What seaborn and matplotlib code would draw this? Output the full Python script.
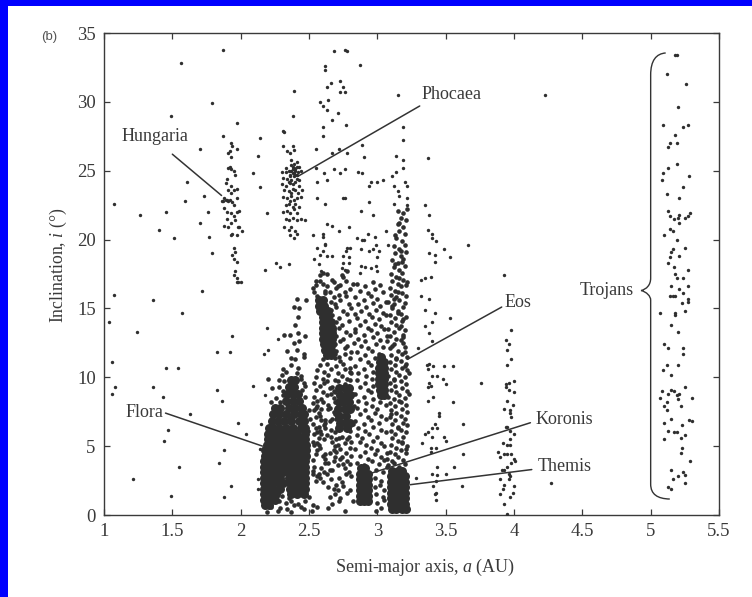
import matplotlib
matplotlib.use("Agg")
import matplotlib.pyplot as plt
from matplotlib.patches import PathPatch, Rectangle
from matplotlib.path import Path
import pandas as pd
import seaborn as sns

# Scattered single asteroids: semi-major axis (AU), inclination (deg)
field_a = [1.87,1.56,1.79,1.49,1.97,1.87,1.70,1.97,1.91,1.61,1.59,1.73,1.07,1.26,1.45,1.40,1.51,1.76,1.70,1.77,1.79,1.72,1.07,
           2.09,2.14,2.14,2.13,2.19,2.18,2.26,2.29,2.35,2.32,2.38,2.39,
           1.04,1.24,1.36,1.57,1.06,1.08,1.06,1.45,1.54,1.36,1.43,1.83,1.92,1.94,1.83,1.86,2.09,1.63,1.98,2.04,1.47,1.44,1.88,1.84,1.55,1.21,1.93,1.88,1.49,
           2.14,2.15,2.19,2.2,2.17,2.27,2.18,2.13,2.13,4.23,4.27,3.76,3.93]
field_i = [33.8,32.8,29.9,29.0,28.5,27.5,26.6,26.6,26.3,24.2,22.8,23.2,22.6,21.8,22.0,20.7,20.1,22.0,21.2,20.2,19.0,16.3,16.0,
           24.8,23.8,27.4,26.1,21.9,17.8,18.3,18.0,18.2,27.8,29.0,30.8,
           14.0,13.3,15.6,14.7,11.1,9.3,8.8,10.7,10.7,9.3,8.6,11.8,11.8,13.0,9.1,8.3,9.4,7.3,6.7,5.9,6.2,5.4,4.7,3.8,3.5,2.6,2.1,1.3,1.4,
           4.8,6.6,13.6,12.0,11.7,12.8,8.7,2.6,1.9,30.5,2.3,9.6,17.4]

# Hungaria group
hungaria_a = [1.93,1.94,1.92,1.93,1.91,1.92,1.93,1.95,1.96,1.9,1.89,1.93,1.91,1.95,1.97,1.93,1.88,1.9,1.86,1.87,1.89,1.91,1.92,1.94,1.95,1.97,1.88,1.9,1.93,1.95,1.97,1.99,1.9,1.93,1.96,1.98,1.88,1.91,1.94,1.97,1.99,2.01,1.93,1.95,1.96,1.94,1.95,1.97,1.96,1.97,1.98,2.0,1.95,1.97]
hungaria_i = [27.0,26.8,26.4,26.0,25.2,25.3,25.1,25.0,24.7,24.4,24.1,23.9,23.6,23.6,23.7,23.4,23.0,22.9,22.8,22.8,22.9,22.8,22.9,22.7,22.5,23.0,22.3,22.0,21.9,21.7,22.0,22.1,21.5,21.2,21.4,20.9,21.0,20.9,20.4,20.3,20.9,20.6,20.3,19.4,19.1,18.9,18.6,18.4,17.7,17.2,16.9,16.9,17.4,16.9]
# Phocaea group
phocaea_a = [2.31,2.34,2.38,2.39,2.36,2.33,2.37,2.41,2.43,2.3,2.33,2.35,2.38,2.4,2.42,2.44,2.31,2.34,2.36,2.39,2.41,2.43,2.3,2.33,2.36,2.38,2.4,2.43,2.32,2.35,2.37,2.4,2.42,2.45,2.31,2.34,2.37,2.39,2.41,2.44,2.33,2.35,2.38,2.4,2.43,2.31,2.34,2.36,2.39,2.41,2.33,2.35,2.38,2.41,2.44,2.47,2.32,2.35,2.37,2.4,2.36,2.39,2.41,2.31,2.37,2.39,2.41,2.38,2.4,2.37,2.39,2.36,2.38,2.4,2.39,2.37,2.35,2.41,2.38,2.36]
phocaea_i = [26.8,26.4,26.8,26.5,26.3,25.2,25.4,25.6,25.3,24.9,24.9,25.0,25.1,25.1,24.9,25.0,24.5,24.4,24.6,24.6,24.4,24.3,24.0,23.9,24.1,24.0,24.2,23.9,23.6,23.5,23.4,23.6,23.4,23.6,23.1,23.0,23.2,22.9,23.0,23.1,22.5,22.6,22.4,22.6,22.4,22.0,22.1,21.9,22.2,21.9,21.5,21.4,21.6,21.4,21.5,21.4,20.9,20.7,20.9,20.6,20.3,20.1,20.4,27.9,25.8,25.5,24.7,24.8,25.0,24.3,24.8,24.7,25.3,24.7,25.2,25.0,24.2,25.3,23.7,22.8]
# Upper, thinly populated part of the belt
upper_a = [2.62,2.62,2.68,2.76,2.78,2.87,2.63,2.66,2.73,2.75,2.73,2.76,2.58,2.64,2.6,2.63,2.71,2.67,2.6,2.77,2.6,2.55,2.67,2.78,2.72,2.89,2.9,2.55,2.61,2.68,2.76,2.73,2.86,2.89,2.56,2.63,2.94,2.95,2.56,2.62,2.75,2.76,2.88,2.63,2.67,2.72,2.79,2.53,2.6,2.89,2.62,2.78,2.94,2.97,
           3.15,3.19,3.19,3.14,3.19,3.37,3.19,3.14,3.11,3.04,3.0,3.12,3.2,3.22,3.15,3.16,3.22,3.12,3.22,3.35,3.38,3.37,3.4,3.4,3.43,3.66,3.49,3.53,3.38,3.42,3.42,3.32,3.35,3.39,
           2.6,2.62,2.54,2.58,2.63,2.67,2.57,2.59,2.75,2.79,2.77,2.8,2.75,2.79,2.74,2.76,2.88,2.94,2.9,2.99,3.01,3.0,3.08,2.88,2.91,2.95,2.99,3.0,2.87,2.6,2.93,2.98,3.06,2.56,2.85,2.97]
upper_i = [32.6,32.3,33.7,33.8,33.7,32.7,31.1,31.4,31.5,31.1,30.7,30.7,30.0,30.1,29.7,29.4,29.2,28.7,28.2,28.3,27.5,26.6,26.3,26.3,26.6,26.9,26.0,25.2,24.8,25.1,25.1,24.8,24.9,24.8,24.2,24.3,23.9,24.2,23.0,22.6,23.0,23.0,22.1,21.1,21.0,20.6,20.9,20.3,20.4,20.0,19.7,19.4,22.7,21.8,
           30.5,28.2,27.2,26.1,25.8,25.9,25.2,24.9,24.6,24.3,24.2,23.9,24.2,23.9,23.5,23.2,23.0,22.6,22.5,22.5,21.8,20.7,20.4,20.1,19.9,19.6,19.3,18.7,19.0,18.9,18.4,17.1,17.2,17.3,
           20.2,19.6,18.6,18.9,18.8,18.8,18.2,17.7,18.8,18.7,19.2,19.4,18.3,18.3,17.9,17.8,19.3,19.2,20.0,19.6,19.2,18.7,19.6,18.1,18.0,17.9,18.1,17.7,17.6,19.2,20.4,20.2,20.6,19.4,20.1,19.3]
# Band near 3.4 AU
band34_a = [3.35,3.42,3.53,3.40,3.35,3.38,3.4,3.36,3.38,3.41,3.49,3.55,3.37,3.4,3.44,3.48,3.5,3.38,3.37,3.39,3.41,3.37,3.55,3.45,3.45,3.63,3.42,3.4,3.44,3.37,3.35,3.4,3.49,3.5,3.33,3.43,3.39,3.39,3.63,3.56,3.44,3.4,3.44,3.5,3.43,3.28,3.62,3.41,3.43,3.42,3.43,3.32,3.38,3.3]
band34_i = [14.9,14.7,14.3,14.0,13.7,13.2,12.6,10.9,11.0,10.8,10.8,10.8,10.6,10.1,10.1,9.9,9.5,9.6,9.3,9.4,8.6,8.3,8.2,7.4,7.2,6.6,6.6,6.3,6.3,6.0,5.9,5.7,5.7,5.4,5.2,4.9,4.9,4.6,4.4,3.5,3.5,3.0,2.9,3.0,2.5,2.7,2.1,2.1,1.6,1.5,1.1,15.9,15.7,12.1]
# Band near 3.95 AU
band395_a = [3.98,3.94,3.96,3.95,3.98,3.95,3.94,3.96,4.0,3.94,3.96,4.0,3.95,3.99,3.93,3.97,3.97,3.98,3.94,3.95,3.97,4.0,3.92,3.95,3.97,3.97,3.88,3.9,3.93,3.95,3.98,4.0,3.98,4.01,3.95,3.93,3.91,3.96,3.97,3.96,3.90,3.93,4.0,3.92,3.99,3.9,3.97,3.93,3.95]
band395_i = [13.4,12.7,12.4,12.0,11.3,10.9,9.5,9.6,9.7,9.3,9.1,8.9,8.3,8.0,7.7,7.6,7.4,7.1,6.4,6.4,6.1,5.9,5.2,5.1,5.5,5.1,4.6,4.2,4.4,4.4,4.4,4.1,3.8,3.9,3.5,3.3,3.3,3.0,2.8,2.6,2.6,2.2,2.1,1.9,1.6,1.5,1.3,0.8,0.1]
# Jupiter Trojans
trojan_a = [5.18,5.19,5.12,5.26,5.2,5.09,5.24,5.27,5.18,5.19,5.14,5.13,5.19,5.13,5.09,5.08,5.28,5.24,5.12,5.21,5.13,5.14,5.17,5.2,5.21,5.21,5.25,5.27,5.29,5.14,5.16,5.1,5.19,5.16,5.15,5.25,5.21,5.14,5.13,5.17,5.27,5.18,5.19,5.24,5.15,5.21,5.27,5.24,5.14,5.16,5.18,5.27,5.27,5.23,5.07,5.18,5.18,5.25,5.15,5.2,5.1,5.13,5.24,5.24,5.12,5.2,5.09,5.15,5.25,5.15,5.17,5.19,5.21,5.2,5.08,5.13,5.07,5.3,5.12,5.1,5.22,5.12,5.15,5.1,5.28,5.3,5.23,5.13,5.17,5.19,5.25,5.22,5.1,5.23,5.22,5.29,5.15,5.24,5.25,5.2,5.16,5.25,5.13,5.15]
trojan_i = [33.4,33.4,32.0,31.3,29.6,28.3,28.2,28.3,27.6,27.0,27.0,26.7,25.5,25.2,24.8,24.3,24.6,23.8,23.3,23.0,22.1,21.7,21.5,21.6,21.2,21.8,21.6,21.7,21.9,20.8,20.6,20.3,20.0,19.3,19.1,19.4,18.8,18.7,18.3,18.0,17.8,17.5,17.2,17.2,16.6,16.4,16.6,16.1,15.9,15.9,15.9,15.7,15.5,15.4,14.7,14.7,14.5,14.8,13.8,13.3,12.4,12.1,12.1,11.7,10.9,10.9,10.5,10.2,9.3,9.1,9.0,8.7,8.8,8.4,9.0,8.8,8.5,8.5,8.2,7.9,7.9,7.6,7.0,6.7,6.9,6.8,6.5,6.1,6.0,6.0,5.8,5.6,5.5,4.9,4.5,3.9,3.3,3.1,2.9,2.8,2.6,2.3,2.0,1.9]

# Dense families, written as (inclination, [semi-major axes]) rows
flora_rows = [
 (0.7,[2.18,2.21]),(1.1,[2.17,2.21,2.25]),(1.5,[2.17,2.21,2.26,2.37,2.41,2.46]),
 (1.9,[2.17,2.2,2.24,2.29,2.36,2.4,2.44,2.47]),(2.3,[2.17,2.2,2.24,2.28,2.31,2.36,2.4,2.44,2.47]),
 (2.7,[2.17,2.2,2.24,2.29,2.35,2.39,2.43,2.47]),(3.1,[2.17,2.2,2.23,2.27,2.31,2.35,2.4,2.44,2.47]),
 (3.5,[2.17,2.2,2.25,2.29,2.32,2.36,2.41,2.45,2.47]),(3.9,[2.17,2.2,2.23,2.28,2.31,2.34,2.38,2.43,2.47]),
 (4.3,[2.18,2.21,2.24,2.28,2.32,2.37,2.42,2.46,2.48]),(4.7,[2.18,2.21,2.26,2.3,2.35,2.39,2.44,2.48]),
 (5.1,[2.19,2.22,2.25,2.29,2.33,2.37,2.42,2.46,2.48]),(5.5,[2.2,2.23,2.26,2.31,2.35,2.4,2.44,2.47]),
 (5.9,[2.2,2.23,2.27,2.31,2.36,2.41,2.47]),(6.3,[2.21,2.24,2.28,2.33,2.38,2.44,2.47]),
 (6.8,[2.23,2.27,2.32,2.37,2.43,2.46]),(7.3,[2.24,2.28,2.33,2.39,2.44,2.46]),(7.8,[2.25,2.29,2.35,2.4,2.45]),
 (8.3,[2.33,2.38,2.43]),(8.8,[2.34,2.38,2.42]),(9.3,[2.35,2.39]),(9.8,[2.37,2.4]),
]
eunomia_rows = [
 (15.6,[2.57,2.6]),(15.2,[2.57,2.61]),(14.8,[2.58,2.62,2.64]),(14.4,[2.6,2.64]),(14.0,[2.6,2.64,2.66]),
 (13.6,[2.6,2.64,2.67]),(13.2,[2.6,2.63,2.67]),(12.8,[2.6,2.64,2.67]),(12.4,[2.61,2.65,2.67]),(12.0,[2.62,2.66]),(11.6,[2.63,2.66]),
 (9.2,[2.72,2.76,2.79]),(8.7,[2.73,2.77,2.8]),(8.2,[2.72,2.75,2.79]),(7.7,[2.71,2.76,2.8]),(7.2,[2.72,2.77]),(6.7,[2.73,2.77,2.8]),(6.3,[2.72,2.78]),
]
koronis_rows = [(3.4,[2.88,2.91]),(3.0,[2.87,2.9,2.93]),(2.6,[2.87,2.9,2.93]),(2.2,[2.87,2.9,2.93]),(1.8,[2.87,2.9,2.93]),(1.4,[2.87,2.9,2.93]),(1.0,[2.87,2.9,2.93])]
themis_rows = [(3.2,[3.11,3.15,3.18]),(2.8,[3.1,3.14,3.17,3.2]),(2.4,[3.1,3.13,3.17,3.2]),(2.0,[3.1,3.13,3.17,3.2]),(1.6,[3.1,3.12,3.16,3.2]),(1.2,[3.1,3.13,3.17,3.2]),(0.8,[3.1,3.13,3.17,3.2]),(0.4,[3.11,3.14,3.18,3.21])]
eos_core_rows = [(11.5,[3.03]),(11.1,[3.02,3.05]),(10.7,[3.01,3.05]),(10.3,[3.01,3.05]),(9.9,[3.01,3.05]),(9.5,[3.01,3.05]),(9.1,[3.02,3.05]),(8.7,[3.03,3.05])]

# Worm-like clumps
flora_fringe = [(2.19,0.2),(2.27,0.3),(2.37,0.2),(2.52,0.3),(2.22,0.6),(2.29,0.5),(2.34,0.4),(2.39,0.7),(2.44,0.6),(2.46,0.4),(2.28,1.0),(2.33,0.9),(2.37,1.0),(2.42,0.8),(2.47,1.0),(2.53,0.7),(2.56,0.6),(2.3,1.4),(2.35,1.2),(2.5,1.3),(2.22,8.2),(2.26,8.5),(2.29,8.2),(2.47,8.6),(2.23,9.2),(2.28,9.3),(2.31,9.0),(2.45,9.1),(2.2,9.9),(2.28,9.8),(2.32,9.7),(2.44,9.9),(2.42,10.7),(2.31,10.6),(2.37,10.9),(2.37,11.4),(2.4,11.3),(2.46,11.5),(2.34,11.9),(2.41,12.0),(2.46,11.7),(2.39,12.5),(2.43,12.6),(2.32,13.1),(2.36,13.1),(2.42,13.2),(2.47,13.0),(2.4,13.8),(2.42,14.4),(2.43,15.0),(2.39,15.1),(2.41,15.7),(2.48,15.6),(2.36,8.9),(2.47,9.4),(2.5,7.6),(2.51,7.0),(2.49,6.1),(2.3,10.2),(2.33,10.4),(2.41,10.3),(2.44,10.1),(2.31,8.7),(2.46,9.6),(2.29,7.5),(2.35,7.1)]
eunomia_low = [(2.64,0.5),(2.76,0.3),(2.67,0.8),(2.72,1.0),(2.65,1.3),(2.69,1.5),(2.73,1.2),(2.78,1.6),(2.64,2.0),(2.68,1.9),(2.71,1.8),(2.75,2.1),(2.8,1.8),(2.55,2.5),(2.58,2.7),(2.6,2.4),(2.63,3.0),(2.66,2.6),(2.7,2.2),(2.74,2.4),(2.53,3.0),(2.56,2.8),(2.61,3.1),(2.65,3.3),(2.72,2.7),(2.77,3.0),(2.81,2.8),(2.54,3.5),(2.59,3.4),(2.62,3.8),(2.67,3.3),(2.71,3.6),(2.76,3.4),(2.8,3.7),(2.53,4.0),(2.55,4.4),(2.62,4.1),(2.68,3.9),(2.73,4.1),(2.78,3.9),(2.56,4.7),(2.6,4.3),(2.65,4.5),(2.7,4.6),(2.74,4.2),(2.77,4.5),(2.81,4.3),(2.54,5.1),(2.58,4.9),(2.69,5.0),(2.73,4.8),(2.76,5.2),(2.8,4.9),(2.53,5.3),(2.57,5.6),(2.61,5.5),(2.67,5.3),(2.72,5.6),(2.78,5.5),(2.54,5.9),(2.55,6.3),(2.58,6.1),(2.63,5.8),(2.69,6.0),(2.74,5.7),(2.8,6.1),(2.53,6.6),(2.57,6.4),(2.62,6.7),(2.66,6.2),(2.55,7.1),(2.59,6.9),(2.67,7.0),(2.69,7.3),(2.54,7.6),(2.57,7.4),(2.64,7.7),(2.68,7.5),(2.53,8.1),(2.56,7.9),(2.6,8.2),(2.65,7.8),(2.69,8.2),(2.54,8.6),(2.59,8.4),(2.63,8.7),(2.68,8.5),(2.55,9.1),(2.6,8.9),(2.65,9.2),(2.69,8.9),(2.54,9.6),(2.58,9.4),(2.63,9.7),(2.67,9.3),(2.71,9.7),(2.76,9.5),(2.8,9.8),(2.55,10.0),(2.6,9.9),(2.64,10.2),(2.69,9.8),(2.74,10.1),(2.78,9.9),(2.81,10.3),(2.56,10.5),(2.61,10.4),(2.66,10.6),(2.71,10.3),(2.76,10.6),(2.8,10.4),(2.58,10.9),(2.63,11.0),(2.7,10.8),(2.75,11.0),(2.8,10.7),(2.6,11.3),(2.69,11.4),(2.73,11.2),(2.57,5.1),(2.62,4.4),(2.66,5.7),(2.71,5.1),(2.75,3.7),(2.56,6.0),(2.59,7.7),(2.56,8.3),(2.58,7.2),(2.61,6.5),(2.65,6.8),(2.7,7.0),(2.74,6.8),(2.79,3.1),(2.81,5.3),(2.55,7.8),(2.57,3.0),(2.62,6.3),(2.64,8.0),(2.68,9.0),(2.71,7.4),(2.79,5.7),(2.82,8.8),(2.53,3.2),(2.56,5.2),(2.59,5.9),(2.62,6.9),(2.66,8.8),(2.69,4.2),(2.82,6.6),(2.83,7.9),(2.61,9.6),(2.64,3.8),(2.68,4.7),(2.7,5.5),(2.77,6.4),(2.82,1.0)]
above_eunomia = [(2.7,11.9),(2.76,12.1),(2.81,11.8),(2.69,12.4),(2.73,12.6),(2.78,12.3),(2.83,12.5),(2.7,13.0),(2.75,12.8),(2.8,13.1),(2.68,13.4),(2.72,13.6),(2.77,13.3),(2.84,13.5),(2.7,14.0),(2.74,13.8),(2.79,14.1),(2.67,14.5),(2.72,14.3),(2.78,14.6),(2.66,14.9),(2.7,15.1),(2.75,14.8),(2.81,15.0),(2.66,15.5),(2.69,15.3),(2.73,15.6),(2.79,15.3),(2.56,15.9),(2.62,16.1),(2.68,15.8),(2.72,16.0),(2.77,15.9),(2.53,16.5),(2.62,16.3),(2.71,16.6),(2.76,16.2),(2.8,16.4),(2.55,17.0),(2.6,16.8),(2.67,17.1),(2.73,16.7),(2.77,17.0),(2.58,17.4),(2.63,17.5),(2.75,17.3),(2.54,16.2),(2.55,16.7),(2.58,17.0),(2.6,17.6),(2.63,16.6),(2.68,16.9),(2.7,16.5),(2.74,17.4),(2.78,17.7),(2.82,16.8),(2.72,11.5),(2.76,11.7),(2.8,11.4),(2.69,11.7),(2.84,14.6),(2.65,16.2)]
mid_band = [(2.99,0.3),(3.03,0.5),(3.0,0.9),(3.05,1.1),(2.99,1.5),(3.04,1.3),(2.98,2.0),(3.02,2.2),(3.05,1.8),(2.98,2.7),(3.03,2.5),(2.99,3.3),(3.04,3.1),(3.07,3.5),(2.85,3.8),(2.9,3.6),(2.96,3.9),(3.01,3.7),(3.05,4.0),(2.87,4.3),(2.93,4.1),(2.98,4.4),(3.03,4.2),(3.07,4.5),(2.84,4.8),(2.91,4.6),(2.95,4.9),(3.0,4.7),(3.05,5.0),(2.87,5.3),(2.92,5.1),(2.97,5.4),(3.03,5.2),(2.85,5.8),(2.89,5.6),(2.94,5.9),(3.0,5.7),(3.06,6.0),(2.86,6.3),(2.91,6.1),(2.97,6.4),(3.03,6.2),(2.84,6.8),(2.9,6.6),(2.95,6.9),(3.01,6.7),(3.06,7.0),(2.87,7.3),(2.93,7.1),(2.98,7.4),(3.03,7.2),(2.85,7.8),(2.91,7.6),(2.96,7.9),(3.0,7.7),(3.06,8.0),(2.86,8.3),(2.92,8.1),(2.97,8.4),(3.02,8.2),(2.84,8.8),(2.9,8.6),(2.95,8.9),(2.87,9.3),(2.93,9.1),(2.97,9.4),(2.85,9.8),(2.91,9.6),(2.96,9.9),(2.86,10.3),(2.92,10.1),(2.97,10.4),(2.84,10.8),(2.9,10.6),(2.95,10.9),(2.87,11.3),(2.93,11.1),(2.98,11.4),(2.85,11.8),(2.91,11.6),(2.96,11.9),(3.01,11.7),(2.88,12.3),(2.93,12.1),(2.99,12.4),(3.04,12.2),(2.86,12.8),(2.91,12.6),(2.97,12.9),(3.02,12.7),(3.07,13.0),(2.84,13.3),(2.9,13.1),(2.95,13.4),(3.0,13.2),(3.05,13.5),(2.87,13.8),(2.93,13.6),(2.98,13.9),(3.03,13.7),(2.85,14.3),(2.91,14.1),(2.96,14.4),(3.01,14.2),(3.06,14.5),(2.88,14.8),(2.94,14.6),(2.99,14.9),(3.04,14.7),(2.86,15.3),(2.92,15.1),(2.97,15.4),(3.02,15.2),(3.06,15.5),(2.84,15.8),(2.9,15.6),(2.95,15.9),(3.0,15.7),(2.87,16.3),(2.93,16.1),(2.98,16.4),(3.04,16.2),(2.85,16.8),(2.91,16.6),(2.97,16.9),(3.02,16.7)]
eos_column = [(3.08,3.6),(3.12,3.8),(3.16,3.5),(3.2,3.7),(3.07,4.1),(3.11,3.9),(3.15,4.2),(3.19,4.0),(3.09,4.6),(3.13,4.4),(3.17,4.7),(3.21,4.5),(3.1,5.1),(3.14,4.9),(3.18,5.2),(3.22,5.0),(3.11,5.6),(3.15,5.4),(3.19,5.7),(3.1,6.1),(3.13,5.9),(3.17,6.2),(3.21,6.0),(3.11,6.6),(3.15,6.4),(3.19,6.7),(3.22,6.5),(3.09,7.1),(3.13,6.9),(3.17,7.2),(3.2,7.0),(3.1,7.6),(3.14,7.4),(3.18,7.7),(3.22,7.5),(3.09,8.1),(3.13,7.9),(3.17,8.2),(3.21,8.0),(3.08,8.6),(3.12,8.4),(3.16,8.7),(3.2,8.5),(3.23,8.8),(3.1,9.1),(3.14,8.9),(3.18,9.2),(3.22,9.0),(3.09,9.6),(3.13,9.4),(3.17,9.7),(3.21,9.5),(3.08,10.1),(3.12,9.9),(3.16,10.2),(3.2,10.0),(3.23,10.3),(3.1,10.6),(3.14,10.4),(3.18,10.7),(3.22,10.5),(3.09,11.1),(3.13,10.9),(3.17,11.2),(3.21,11.0),(3.1,11.6),(3.14,11.4),(3.18,11.7),(3.22,11.5),(3.09,12.1),(3.15,11.9),(3.2,12.2),(3.07,12.6),(3.12,12.4),(3.17,12.7),(3.09,13.0),(3.14,12.8),(3.19,13.1),(3.08,13.5),(3.12,13.3),(3.16,13.6),(3.2,13.4),(3.1,14.0),(3.14,13.8),(3.18,14.1),(3.09,14.5),(3.13,14.3),(3.17,14.6),(3.21,14.4),(3.11,15.0),(3.15,14.8),(3.19,15.1),(3.08,15.5),(3.12,15.3),(3.16,15.6),(3.2,15.4),(3.1,16.0),(3.14,15.8),(3.18,16.1),(3.21,15.9),(3.09,16.5),(3.13,16.3),(3.17,16.6),(3.11,17.0),(3.15,16.8),(3.19,17.1),(3.22,16.9),(3.1,17.5),(3.14,17.3),(3.18,17.6),(3.12,18.0),(3.16,17.8),(3.2,18.1),(3.11,18.5),(3.15,18.3),(3.19,18.6),(3.13,19.0),(3.17,18.8),(3.21,19.1),(3.12,19.5),(3.16,19.3),(3.2,19.6),(3.14,20.1),(3.18,19.9),(3.16,20.6),(3.2,20.4),(3.15,21.1),(3.19,20.9),(3.17,21.6),(3.21,21.4),(3.15,22.1),(3.19,21.9),(3.22,22.2),(3.13,20.3),(3.16,21.2),(3.18,18.4),(3.15,16.2),(3.19,14.2),(3.11,12.3),(3.14,11.3),(3.17,13.7),(3.2,10.8),(3.12,9.8),(3.16,8.3),(3.19,12.9),(3.1,7.3),(3.15,6.3),(3.18,5.3),(3.21,4.8),(3.12,15.7),(3.16,17.2),(3.2,11.8),(3.13,18.2),(3.17,19.2),(3.21,16.7),(3.11,15.2),(3.15,14.7),(3.19,12.5)]

MARK = "#2f2f2f"
INK = "#3a3a3a"
SERIF = "Liberation Serif"

sns.set_theme(style="white", rc={
    "font.family": SERIF, "mathtext.fontset": "custom",
    "mathtext.rm": SERIF, "mathtext.it": SERIF + ":italic",
})

fig = plt.figure(figsize=(7.52, 5.97), dpi=100, facecolor="white")
fig.add_artist(Rectangle((0, 0), 8 / 752, 1, transform=fig.transFigure, color="#0000FF", lw=0))
fig.add_artist(Rectangle((0, 1 - 6 / 597), 1, 6 / 597, transform=fig.transFigure, color="#0000FF", lw=0))
ax = fig.add_axes([104 / 752, 1 - 515 / 597, 615 / 752, 482 / 597])


def expand(rows):
    a = [v for _, values in rows for v in values]
    i = [r for r, values in rows for _ in values]
    return pd.DataFrame({"a": a, "i": i})


small = pd.DataFrame({
    "a": field_a + hungaria_a + phocaea_a + upper_a + band34_a + band395_a + trojan_a,
    "i": field_i + hungaria_i + phocaea_i + upper_i + band34_i + band395_i + trojan_i,
})
mesh = pd.DataFrame(flora_fringe + eunomia_low + above_eunomia + mid_band + eos_column, columns=["a", "i"])
core = pd.concat([expand(r) for r in (flora_rows, eunomia_rows, koronis_rows, themis_rows, eos_core_rows)])

sns.scatterplot(data=small, x="a", y="i", s=6, color=MARK, linewidth=0, ax=ax, zorder=3)
sns.scatterplot(data=mesh, x="a", y="i", s=11, color=MARK, linewidth=0, ax=ax, zorder=3)
sns.scatterplot(data=core, x="a", y="i", s=42, color=MARK, linewidth=0, ax=ax, zorder=3)

ax.set_xlim(1, 5.5)
ax.set_ylim(0, 35)
ax.set_xticks([1, 1.5, 2, 2.5, 3, 3.5, 4, 4.5, 5, 5.5])
ax.set_xticklabels(["1", "1.5", "2", "2.5", "3", "3.5", "4", "4.5", "5", "5.5"])
ax.set_yticks(range(0, 36, 5))
ax.tick_params(direction="in", length=4, width=0.9, color=INK, labelcolor=INK, labelsize=13.5,
               top=True, right=True, bottom=True, left=True, pad=6)
for s in ax.spines.values():
    s.set_color(INK)
    s.set_linewidth(1.0)
ax.set_xlabel("Semi-major axis, $\\mathit{a}$ (AU)", fontsize=13, color=INK)
ax.set_ylabel("Inclination, $\\mathit{i}$ (°)", fontsize=12.8, color=INK)
ax.xaxis.set_label_coords((425 - 104) / 615, -(557 - 515) / 482)
ax.yaxis.set_label_coords(-(104 - 69) / 615, (515 - 265) / 482)

labels = [
    ("Hungaria", 1.125, 27.5, (1.50, 26.2), (1.86, 23.2)),
    ("Phocaea", 3.32, 30.5, (3.31, 29.7), (2.42, 24.6)),
    ("Flora", 1.16, 7.45, (1.45, 7.4), (2.16, 5.0)),
    ("Eos", 3.93, 15.4, (3.91, 15.1), (3.22, 11.3)),
    ("Koronis", 4.16, 6.9, (4.12, 6.7), (2.96, 3.05)),
    ("Themis", 4.17, 3.55, (4.13, 3.3), (3.24, 2.2)),
    ("Trojans", 4.48, 16.3, None, None),
]
for name, tx, ty, p0, p1 in labels:
    ax.text(tx, ty, name, fontsize=13, color=INK, va="center", ha="left", zorder=5)
    if p0 is not None:
        ax.plot([p0[0], p1[0]], [p0[1], p1[1]], color="#333333", lw=1.1, zorder=4)

brace = Path(
    [(5.11, 33.55), (5.04, 33.5), (5.0, 33.0), (5.0, 31.95), (5.0, 17.2), (5.0, 16.7), (4.97, 16.4), (4.93, 16.3),
     (4.97, 16.2), (5.0, 15.9), (5.0, 15.6), (5.0, 2.25), (5.0, 1.5), (5.05, 1.18), (5.14, 1.16)],
    [Path.MOVETO, Path.CURVE4, Path.CURVE4, Path.CURVE4, Path.LINETO, Path.CURVE4, Path.CURVE4, Path.CURVE4,
     Path.CURVE4, Path.CURVE4, Path.CURVE4, Path.LINETO, Path.CURVE4, Path.CURVE4, Path.CURVE4],
)
ax.add_patch(PathPatch(brace, fc="none", ec="#333333", lw=1.0, zorder=4))

fig.text(49 / 752, 1 - 37 / 597, "(b)", fontsize=9.5, family="Liberation Sans", color="#555555", ha="center", va="center")

fig.savefig("out.png", dpi=100)
